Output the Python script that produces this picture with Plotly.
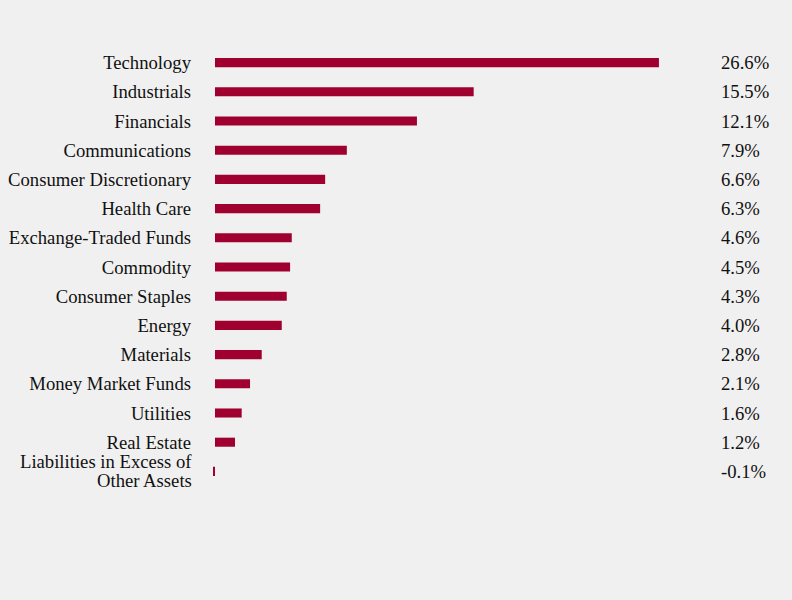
import plotly.graph_objects as go

categories = ["Technology", "Industrials", "Financials", "Communications",
              "Consumer Discretionary", "Health Care", "Exchange-Traded Funds",
              "Commodity", "Consumer Staples", "Energy", "Materials",
              "Money Market Funds", "Utilities", "Real Estate",
              "Liabilities in Excess of Other Assets"]
tick_labels = ["Technology", "Industrials", "Financials", "Communications",
               "Consumer Discretionary", "Health Care", "Exchange-Traded Funds",
               "Commodity", "Consumer Staples", "Energy", "Materials",
               "Money Market Funds", "Utilities", "Real Estate", ""]
wrapped_label_lines = ["Liabilities in Excess of", "Other Assets"]
values = [26.6, 15.5, 12.1, 7.9, 6.6, 6.3, 4.6, 4.5, 4.3, 4.0, 2.8, 2.1, 1.6, 1.2, -0.1]
value_labels = ["26.6%", "15.5%", "12.1%", "7.9%", "6.6%", "6.3%", "4.6%", "4.5%",
                "4.3%", "4.0%", "2.8%", "2.1%", "1.6%", "1.2%", "-0.1%"]

font = dict(family="Liberation Serif, Times New Roman, serif", size=18.67, color="#111111")

fig = go.Figure(go.Bar(
    x=values, y=categories, orientation="h",
    marker=dict(color="#a00030", line=dict(width=0)),
    width=0.31,
))

for cat, lab in zip(categories, value_labels):
    fig.add_annotation(x=1.028, xref="paper", y=cat, yref="y", text=lab,
                       showarrow=False, xanchor="left", font=font)

# two-line label for the last category, with tight line spacing
for line, shift in zip(wrapped_label_lines, [9.5, -9.5]):
    fig.add_annotation(x=-0.022, xref="paper", y=categories[-1], yref="y", text=line,
                       showarrow=False, xanchor="right", yshift=shift, font=font)

fig.update_layout(
    width=792, height=600,
    paper_bgcolor="#f0f0f0", plot_bgcolor="#f0f0f0",
    margin=dict(l=205, r=87, t=48, b=114, autoexpand=False),
    showlegend=False,
    font=font,
    xaxis=dict(range=[-0.599, 29.36], visible=False, fixedrange=True, automargin=False),
    yaxis=dict(range=[len(categories) - 0.5, -0.5], showgrid=False, zeroline=False,
               automargin=False, showline=False, ticks="", tickfont=font,
               ticklabelstandoff=13, tickmode="array", tickvals=categories,
               ticktext=tick_labels),
)

fig.write_html("out.html")
